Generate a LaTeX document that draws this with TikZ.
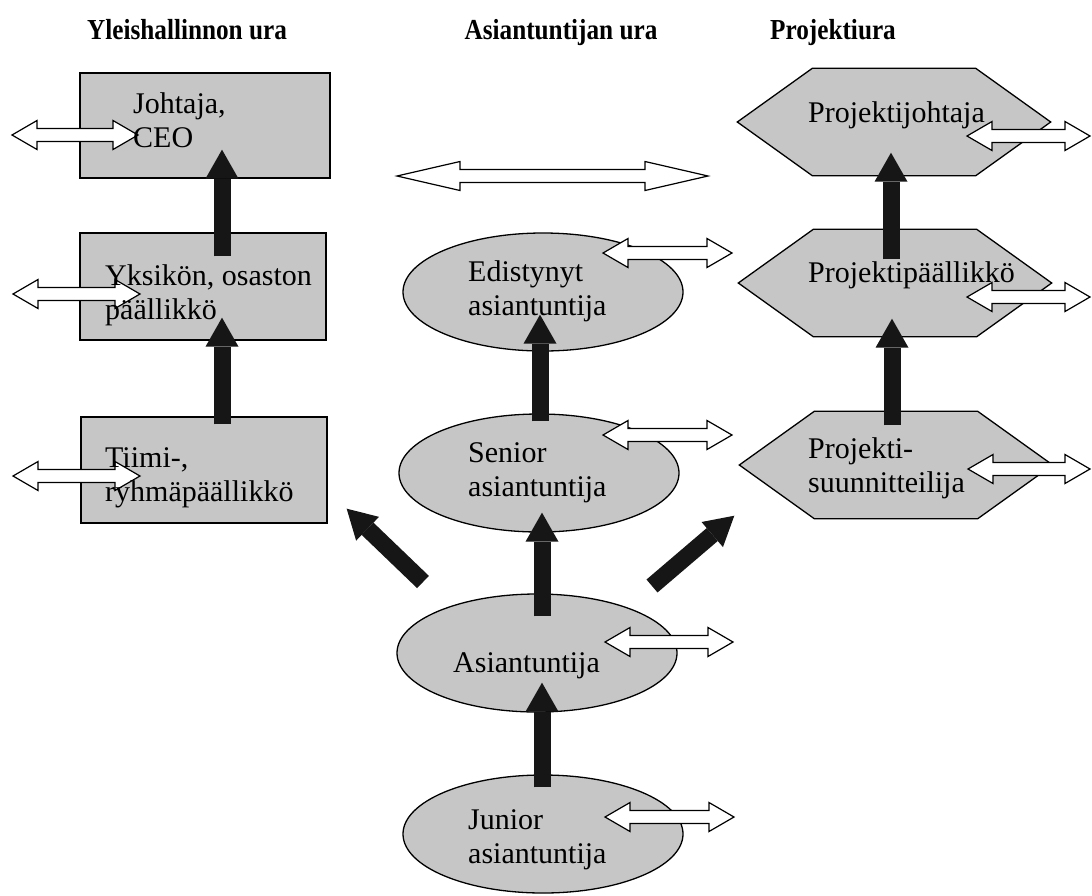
\documentclass[tikz,border=0pt]{standalone}
\usepackage{fontspec}
\setmainfont{Liberation Serif}
\newfontfamily\headfont[FakeStretch=0.87]{Liberation Serif}
\usetikzlibrary{shapes.geometric,arrows.meta,calc}
\pgfdeclarelayer{bg}
\pgfdeclarelayer{mid}
\pgfsetlayers{bg,mid,main}
\definecolor{shapegray}{RGB}{198,198,198}
\definecolor{arrowblack}{RGB}{22,22,22}
% hollow two-way arrow: left tip x, right tip x, y, head length
\newcommand{\twoway}[4]{%
  \draw[wht] (#1,#3) -- ++(#4,-14.5) -- ++(0,8) -- (#2-#4,#3-6.5) -- ++(0,-8)
    -- (#2,#3) -- ++(-#4,14.5) -- ++(0,-8) -- (#1+#4,#3+6.5) -- ++(0,8) -- cycle;}
\begin{document}
\begin{tikzpicture}[x=1pt,y=-1pt,
  txt/.style={font=\fontsize{30}{34}\selectfont, inner sep=0pt, align=left},
  head/.style={font=\headfont\fontsize{29}{32}\selectfont\bfseries, inner sep=0pt, anchor=base},
  rshape/.style={rectangle, draw=black, fill=shapegray, line width=1.3pt, inner sep=0pt},
  oshape/.style={ellipse, draw=black, fill=shapegray, line width=1.3pt, inner sep=0pt,
                 minimum width=280pt, minimum height=118pt},
  hshape/.style={rectangle, inner sep=0pt, minimum width=313pt, minimum height=107pt},
  shp/.style={fill=shapegray, draw=black, line width=1.3pt, line join=miter},
  promo/.style={draw=arrowblack, line width=17pt,
                -{Triangle[length=29pt,width=33pt,line width=0pt]}},
  wht/.style={draw=black, fill=white, line width=1.2pt, line join=miter}]
\useasboundingbox (0,0) rectangle (1092,895);

% headings
\node[head] (h1) at (187,39) {Yleishallinnon ura};
\node[head] (h2) at (561,39) {Asiantuntijan ura};
\node[head] (h3) at (833,39) {Projektiura};

% shapes
\begin{pgfonlayer}{bg}
  \node[rshape, minimum width=250pt, minimum height=105pt] (joh) at (205,125.5) {};
  \node[rshape, minimum width=246pt, minimum height=107pt] (yks) at (203,286.5) {};
  \node[rshape, minimum width=246pt, minimum height=106pt] (tii) at (204,470) {};
  \node[oshape] (edi) at (543,292) {};
  \node[oshape] (sen) at (539,473) {};
  \node[oshape] (asi) at (537,653) {};
  \node[oshape] (jun) at (543,834) {};
  \node[hshape] (pjo) at (894,122) {};
  \node[hshape] (ppa) at (895,283) {};
  \node[hshape] (psu) at (896,465) {};
  \foreach \h in {pjo,ppa,psu}{
    \filldraw[shp] (\h.west) -- ([xshift=75pt]\h.north west) -- ([xshift=-75pt]\h.north east)
      -- (\h.east) -- ([xshift=-75pt]\h.south east) -- ([xshift=75pt]\h.south west) -- cycle;
  }
\end{pgfonlayer}

% arrows
\begin{pgfonlayer}{mid}
  \draw[promo] ($(yks.north)+(19,24)$) -- ($(joh.south)+(17,-29)$);
  \draw[promo] ($(tii.north)+(18,8)$) -- ($(yks.south)+(19,-23)$);
  \draw[promo] ($(sen.north)+(1,8)$) -- ($(edi.south)+(-3,-37)$);
  \draw[promo] ($(asi.north)+(5,23)$) -- ($(sen.south)+(3,-20)$);
  \draw[promo] ($(jun.north)+(-1,13)$) -- ($(asi.south)+(5,-30)$);
  \draw[promo] ($(asi.center)+(-114,-71)$) -- ($(tii.south east)+(19,-15)$);
  \draw[promo] ($(asi.center)+(115,-67)$) -- ($(psu.south west)+(-5,-3)$);
  \draw[promo] ($(psu.north)+(-4,14)$) -- ($(ppa.south)+(-3,-18)$);
  \draw[promo] ($(ppa.north)+(-4,30)$) -- ($(pjo.south)+(-3,-23)$);

  \twoway{12}{138}{135}{25}
  \twoway{13}{140}{294}{25}
  \twoway{13}{140}{476}{25}
  \twoway{397}{708}{176}{63}
  \twoway{603}{732}{253}{25}
  \twoway{603}{732}{435}{25}
  \twoway{605}{733}{642}{25}
  \twoway{605}{734}{817}{25}
  \twoway{967}{1090}{136}{25}
  \twoway{967}{1090}{297}{25}
  \twoway{968}{1090}{469}{25}
\end{pgfonlayer}

% texts
\node[txt, anchor=west] (joh-t) at (133,120) {Johtaja,\\CEO};
\node[txt, anchor=west] (yks-t) at (105,295) {Yksikön, osaston\\päällikkö};
\node[txt, anchor=west] (tii-t) at (105,478) {Tiimi-,\\ryhmäpäällikkö};
\node[txt, anchor=west] (edi-t) at (468,291.5) {Edistynyt\\asiantuntija};
\node[txt, anchor=west] (sen-t) at (468,473) {Senior\\asiantuntija};
\node[txt, anchor=base west] (asi-t) at (453,672) {Asiantuntija};
\node[txt, anchor=west] (jun-t) at (468,840) {Junior\\asiantuntija};
\node[txt, anchor=base west] (pjo-t) at (808,122) {Projektijohtaja};
\node[txt, anchor=base west] (ppa-t) at (808,282) {Projektipäällikkö};
\node[txt, anchor=west] (psu-t) at (808,468) {Projekti-\\suunnitteilija};
\end{tikzpicture}
\end{document}
